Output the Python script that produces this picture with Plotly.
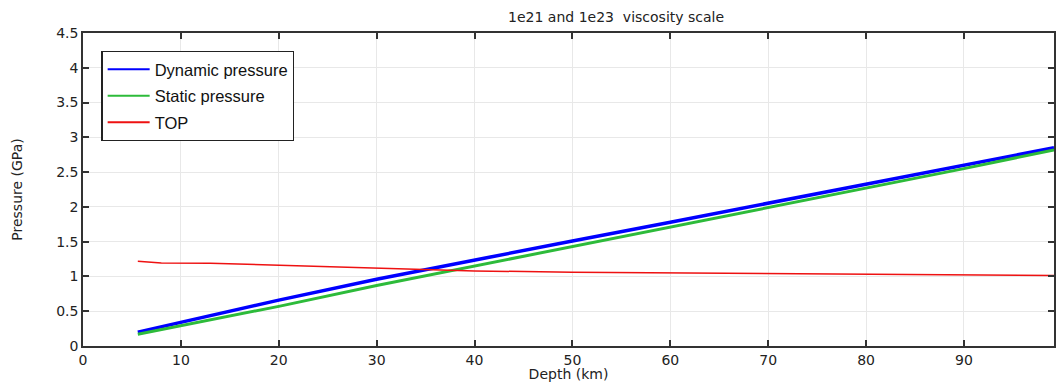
import plotly.graph_objects as go

depth_km = [5.6, 10, 20, 30, 40, 50, 60, 70, 80, 90, 99.2]
dynamic_gpa = [0.20, 0.34, 0.66, 0.96, 1.24, 1.51, 1.78, 2.05, 2.32, 2.59, 2.85]
static_gpa = [0.17, 0.29, 0.57, 0.87, 1.15, 1.43, 1.71, 1.99, 2.27, 2.55, 2.82]

top_depth_km = [5.6, 6.5, 8, 13, 20, 30, 40, 50, 60, 70, 80, 90, 99.2]
top_gpa = [1.22, 1.21, 1.195, 1.19, 1.16, 1.115, 1.08, 1.06, 1.05, 1.037, 1.027, 1.016, 1.014]

x_ticks = [0, 10, 20, 30, 40, 50, 60, 70, 80, 90]
y_ticks = [0, 0.5, 1, 1.5, 2, 2.5, 3, 3.5, 4, 4.5]
y_tick_text = ["0", "0.5", "1", "1.5", "2", "2.5", "3", "3.5", "4", "4.5"]

series_names = ["Dynamic pressure", "Static pressure", "TOP"]
series_colors = ["#0000ff", "#2dbb3a", "#ee1111"]

fig = go.Figure()
fig.add_trace(go.Scatter(x=depth_km, y=dynamic_gpa, mode="lines", name=series_names[0],
                         line=dict(color=series_colors[0], width=3.5), showlegend=False))
fig.add_trace(go.Scatter(x=depth_km, y=static_gpa, mode="lines", name=series_names[1],
                         line=dict(color=series_colors[1], width=3), showlegend=False))
fig.add_trace(go.Scatter(x=top_depth_km, y=top_gpa, mode="lines", name=series_names[2],
                         line=dict(color=series_colors[2], width=1.5), showlegend=False))
# legend entries (thin lines as in the reference legend)
for i, (nm, col) in enumerate(zip(series_names, series_colors)):
    fig.add_trace(go.Scatter(x=[None], y=[None], mode="lines", name=nm,
                             line=dict(color=col, width=2), legendgroup=f"g{i}"))

axis_font = dict(family="DejaVu Sans", size=14, color="#222222")
axis_common = dict(
    showline=True, linecolor="#333333", linewidth=1.5, mirror="ticks",
    ticks="inside", ticklen=6, tickcolor="#333333", tickwidth=1.5,
    showgrid=True, gridcolor="#e8e8e8", gridwidth=1, zeroline=False,
    tickfont=axis_font,
)

fig.update_layout(
    width=1056, height=382,
    margin=dict(l=83, r=0, t=33, b=36),
    paper_bgcolor="white", plot_bgcolor="white",
    title=dict(text="1e21 and 1e23  viscosity scale", x=0.549, xref="paper", xanchor="center",
               y=0.955, yref="container", yanchor="middle",
               font=dict(family="DejaVu Sans", size=14, color="#222222")),
    xaxis=dict(range=[0, 99.2], tickvals=x_ticks,
               title=dict(text="Depth (km)", standoff=0, font=axis_font),
               **axis_common),
    yaxis=dict(range=[0, 4.5], tickvals=y_ticks, ticktext=y_tick_text,
               title=dict(text="Pressure (GPa)", standoff=30, font=axis_font),
               **axis_common),
    legend=dict(x=0.019, y=0.943, xanchor="left", yanchor="top",
                bgcolor="white", bordercolor="#222222", borderwidth=1.2,
                font=dict(family="Liberation Sans", size=16.5, color="#111111"),
                tracegroupgap=2, itemwidth=42),
    showlegend=True,
)

fig.write_html("out.html", config={"displayModeBar": False},
               post_script="document.body.style.margin='0';document.body.style.overflow='hidden';")
